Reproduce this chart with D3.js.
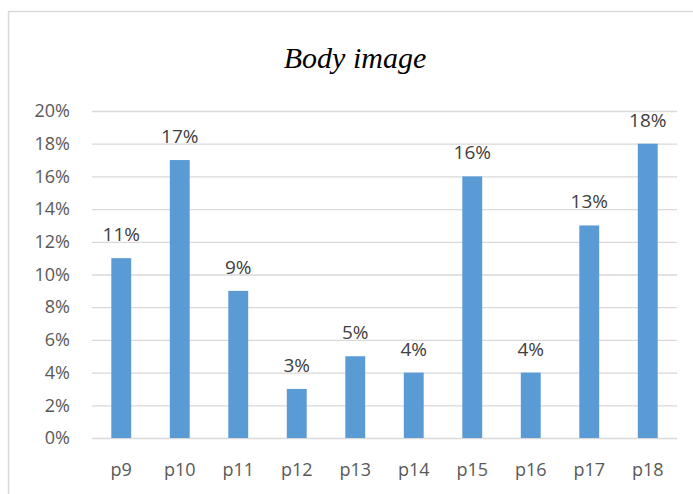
<!DOCTYPE html>
<html><head><meta charset="utf-8">
<script src="https://cdn.jsdelivr.net/npm/d3@7"></script>
<style>body{margin:0;background:#fff}svg{display:block}</style>
</head><body>
<svg id="c" width="693" height="494"></svg>
<script>
const categories = ["p9","p10","p11","p12","p13","p14","p15","p16","p17","p18"];
const values = [11,17,9,3,5,4,16,4,13,18];
const yTicks = [0,2,4,6,8,10,12,14,16,18,20];
const title = "Body image";

const svg = d3.select("#c");
const W = 693, H = 494;
const m = {left:92, right:16, top:111, bottom:56};
const x = d3.scaleBand().domain(categories).range([m.left, W - m.right]).paddingInner(0.66).paddingOuter(0.33);
const y = d3.scaleLinear().domain([0,20]).range([H - m.bottom, m.top]);
const font = "'Open Sans', 'Noto Sans', sans-serif";

svg.append("rect").attr("x",8.5).attr("y",11.5).attr("width",W+10).attr("height",H+10)
  .attr("fill","none").attr("stroke","#d9d9d9").attr("stroke-width",1.5);

svg.append("text").attr("x",355).attr("y",68).attr("text-anchor","middle")
  .attr("font-family","'Liberation Serif', serif").attr("font-style","italic")
  .attr("font-size",30).attr("fill","#000").text(title);

const yAxis = d3.axisLeft(y).tickValues(yTicks).tickSize(-(W - m.right - m.left)).tickFormat(d => d + "%");
const gy = svg.append("g").attr("transform",`translate(${m.left},0)`).call(yAxis);
gy.select(".domain").remove();
gy.selectAll(".tick line").attr("stroke","#d9d9d9").attr("stroke-width",1.3);
gy.selectAll(".tick text").attr("x",-22).attr("fill","#595959")
  .attr("font-family",font).attr("font-size",18);

const xAxis = d3.axisBottom(x).tickSize(0);
const gx = svg.append("g").attr("transform",`translate(0,${H - m.bottom})`).call(xAxis);
gx.select(".domain").remove();
gx.selectAll(".tick text").attr("dy",0).attr("y",38).attr("fill","#595959")
  .attr("font-family",font).attr("font-size",18);

svg.append("g").selectAll("rect").data(values).join("rect")
  .attr("x",(d,i)=>x(categories[i])).attr("width",x.bandwidth())
  .attr("y",d=>y(d)).attr("height",d=>y(0)-y(d)).attr("fill","#5b9bd5");

svg.append("g").selectAll("text").data(values).join("text")
  .attr("x",(d,i)=>x(categories[i]) + x.bandwidth()/2).attr("y",d=>y(d)-17)
  .attr("text-anchor","middle").attr("fill","#404040")
  .attr("font-family",font).attr("font-size",19)
  .text(d=>d+"%");
</script>
</body></html>
